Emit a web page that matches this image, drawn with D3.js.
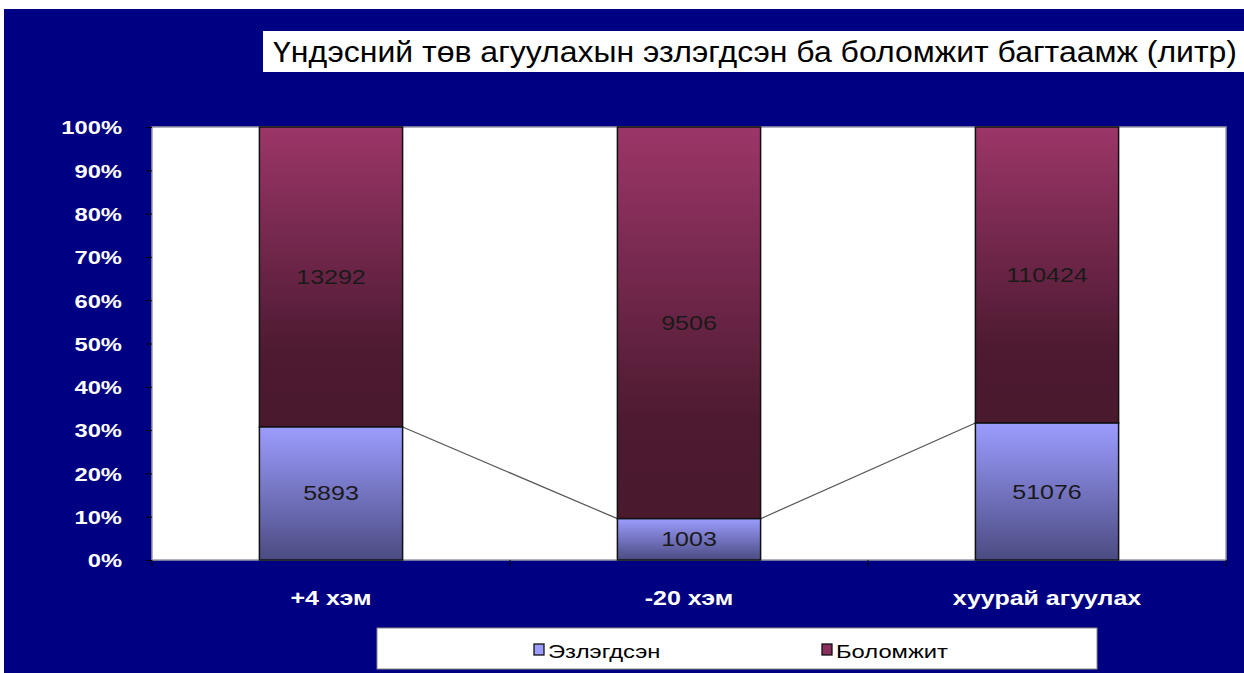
<!DOCTYPE html>
<html><head><meta charset="utf-8">
<script src="https://cdn.jsdelivr.net/npm/d3@7"></script>
<style>html,body{margin:0;padding:0;background:#fff;}svg{display:block;}</style>
</head><body>
<svg id="chart" width="1244" height="673"></svg>
<script>
const categories = ["+4 хэм", "-20 хэм", "хуурай агуулах"];
const occupied = [5893, 1003, 51076];      // Эзлэгдсэн
const available = [13292, 9506, 110424];   // Боломжит
const seriesNames = ["Эзлэгдсэн", "Боломжит"];
const yTicks = [0, 0.1, 0.2, 0.3, 0.4, 0.5, 0.6, 0.7, 0.8, 0.9, 1.0];
const title = "Үндэсний төв агуулахын  эзлэгдсэн ба боломжит багтаамж (литр)";

const svg = d3.select("#chart");
const FONT = "'Liberation Sans', Arial, sans-serif";
const STRETCH = 1.25;
function stretch(sel) {
  sel.each(function () {
    const t = d3.select(this);
    const x0 = +t.attr("x") || 0, y0 = +t.attr("y") || 0;
    t.attr("x", 0).attr("y", 0).attr("transform", `translate(${x0},${y0}) scale(${STRETCH},1)`);
  });
}

svg.append("rect").attr("x", 4).attr("y", 9).attr("width", 1240).attr("height", 664).attr("fill", "#000083");

const defs = svg.append("defs");
const g1 = defs.append("linearGradient").attr("id", "gOcc").attr("x1", 0).attr("y1", 0).attr("x2", 0).attr("y2", 1);
g1.append("stop").attr("offset", "0%").attr("stop-color", "#9c9cff");
g1.append("stop").attr("offset", "100%").attr("stop-color", "#4b4b82");
const g2 = defs.append("linearGradient").attr("id", "gAvl").attr("x1", 0).attr("y1", 0).attr("x2", 0).attr("y2", 1);
g2.append("stop").attr("offset", "0%").attr("stop-color", "#9c3668");
g2.append("stop").attr("offset", "75%").attr("stop-color", "#4d1a31");
g2.append("stop").attr("offset", "100%").attr("stop-color", "#4a192e");

// Title
svg.append("rect").attr("x", 263).attr("y", 31).attr("width", 981).attr("height", 41).attr("fill", "#fff");
svg.append("text").attr("x", 273).attr("y", 62).attr("font-family", FONT).attr("font-size", 30)
  .attr("textLength", 964).attr("lengthAdjust", "spacingAndGlyphs").attr("fill", "#000").text(title);

const plot = {l: 152, r: 1226, t: 127, b: 560};
const x = d3.scaleBand().domain(categories).range([plot.l, plot.r]).paddingInner(0).paddingOuter(0);
const y = d3.scaleLinear().domain([0, 1]).range([plot.b, plot.t]);
const barW = x.bandwidth() / 2.5;

svg.append("rect").attr("x", plot.l).attr("y", plot.t).attr("width", plot.r - plot.l).attr("height", plot.b - plot.t)
  .attr("fill", "#fff").attr("stroke", "#9a9aa8").attr("stroke-width", 1.5);

const data = categories.map((c, i) => {
  const tot = occupied[i] + available[i];
  return {c, occ: occupied[i], avl: available[i], p: occupied[i] / tot};
});

// Series lines
const lineG = svg.append("g");
for (let i = 0; i < data.length - 1; i++) {
  const a = data[i], b = data[i + 1];
  lineG.append("line")
    .attr("x1", x(a.c) + x.bandwidth() / 2 + barW / 2).attr("y1", y(a.p))
    .attr("x2", x(b.c) + x.bandwidth() / 2 - barW / 2).attr("y2", y(b.p))
    .attr("stroke", "#555").attr("stroke-width", 1.2);
}

const bars = svg.append("g").selectAll("g").data(data).join("g");
bars.append("rect").attr("x", d => x(d.c) + x.bandwidth() / 2 - barW / 2).attr("width", barW)
  .attr("y", d => y(1)).attr("height", d => y(d.p) - y(1))
  .attr("fill", "url(#gAvl)").attr("stroke", "#111").attr("stroke-width", 1.5);
bars.append("rect").attr("x", d => x(d.c) + x.bandwidth() / 2 - barW / 2).attr("width", barW)
  .attr("y", d => y(d.p)).attr("height", d => y(0) - y(d.p))
  .attr("fill", "url(#gOcc)").attr("stroke", "#111").attr("stroke-width", 1.5);
bars.append("text").attr("x", d => x(d.c) + x.bandwidth() / 2).attr("y", d => (y(1) + y(d.p)) / 2 + 7)
  .attr("text-anchor", "middle").attr("font-family", FONT).attr("font-size", 20).attr("fill", "#1a1a1a").text(d => d.avl)
  .call(stretch);
bars.append("text").attr("x", d => x(d.c) + x.bandwidth() / 2).attr("y", d => (y(0) + y(d.p)) / 2 + 7)
  .attr("text-anchor", "middle").attr("font-family", FONT).attr("font-size", 20).attr("fill", "#1a1a1a").text(d => d.occ)
  .call(stretch);

// Y axis
const yAxis = svg.append("g").attr("transform", `translate(${plot.l},0)`)
  .call(d3.axisLeft(y).tickValues(yTicks).tickFormat(d3.format(".0%")).tickSize(6).tickPadding(24));
yAxis.select(".domain").remove();
yAxis.selectAll("line").attr("stroke", "#000");
yAxis.selectAll("text").attr("fill", "#fff").attr("font-family", FONT).attr("font-size", 19).attr("font-weight", "bold")
  .attr("dy", "0.36em").call(stretch);

// X axis
const xAxis = svg.append("g").attr("transform", `translate(0,${plot.b})`)
  .call(d3.axisBottom(x).tickSize(0).tickPadding(31));
xAxis.select(".domain").remove();
xAxis.selectAll("text").attr("fill", "#fff").attr("font-family", FONT).attr("font-size", 20).attr("font-weight", "bold")
  .call(stretch);
// category boundary ticks
svg.append("g").selectAll("line").data(x.domain().map(c => x(c)).concat([plot.r])).join("line")
  .attr("x1", d => d).attr("x2", d => d).attr("y1", plot.b).attr("y2", plot.b + 6).attr("stroke", "#000");

// Legend
const leg = svg.append("g");
leg.append("rect").attr("x", 377).attr("y", 628).attr("width", 720).attr("height", 41).attr("fill", "#fff").attr("stroke", "#888");
const legX = [534, 822];
seriesNames.forEach((n, i) => {
  leg.append("rect").attr("x", legX[i]).attr("y", 644).attr("width", 10).attr("height", 11)
    .attr("fill", i === 0 ? "#9c9cff" : "#8a2f5c").attr("stroke", "#111").attr("stroke-width", 1.3);
  leg.append("text").attr("x", legX[i] + 14).attr("y", 658).attr("font-family", FONT).attr("font-size", 19)
    .attr("fill", "#000").text(n).call(stretch);
});
</script>
</body></html>
